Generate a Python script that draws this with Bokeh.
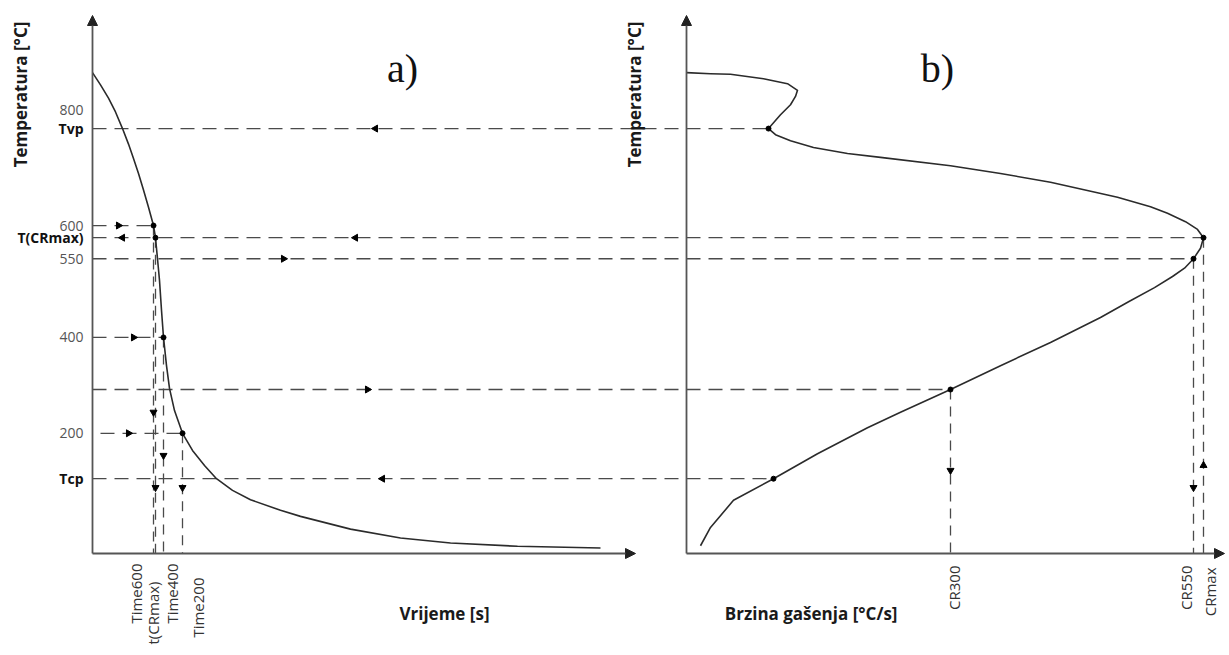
import math
from bokeh.plotting import figure
from bokeh.models import Range1d, Arrow, NormalHead
from bokeh.core.properties import value
from bokeh.embed import file_html
from bokeh.resources import INLINE

# ---------------- data ----------------
# a) cooling curve: time [s] vs temperature [°C]
cool_t = [0, 0.8, 1.6, 2.3, 3.0, 3.6, 4.1, 4.6, 5.1, 5.6, 6.1, 6.3, 6.5, 6.7, 6.9, 7.1,
          7.4, 7.7, 8.2, 9.0, 10.0, 11.2, 12.4, 14.0, 15.8, 18.8, 20.8, 25.8, 30.8, 35.8, 42.5, 50.8]
cool_T = [868, 846, 822, 797, 767, 739, 713, 686, 656, 625, 592, 570, 532, 493, 439, 390,
          339, 298, 258, 217, 186, 159, 135, 114, 97, 78, 67, 44, 28, 19, 13, 10]

# b) cooling rate [°C/s] vs temperature [°C]
rate_CR = [0, 4.8, 8.8, 15.4, 20.2, 22.2, 21.8, 20.8, 18.8, 16.4, 17.8, 20.8, 25.4, 32.2, 38.8,
           52.8, 62.8, 72.8, 86.2, 92.8, 96.2, 99.8, 102.2, 103.4, 102.8, 101.4, 99.6, 97.2,
           93.6, 88.5, 82.8, 72.8, 62.8, 52.8, 42.8, 36.2, 26.2, 17.4, 9.4, 4.8, 2.8]
rate_T = [868, 866, 865, 857, 848, 836, 825, 810, 792, 767, 756, 745, 733, 722, 715,
          700, 686, 670, 643, 626, 614, 599, 585, 570, 551, 532, 515, 500,
          480, 455, 426, 381, 339, 296, 255, 227, 180, 135, 96, 47, 14]

# temperature tick labels
level_names = ["800", "Tvp", "600", "T(CRmax)", "550", "400", "200", "Tcp"]
level_T = [800, 767, 592, 570, 532, 390, 217, 135]
level_bold = [False, True, False, True, False, False, False, True]
T300 = 296

# characteristic times
time_names = ["Time600", "t(CRmax)", "Time400", "Time200"]
time_vals = [6.1, 6.3, 7.1, 9.0]
time_T = [592, 570, 390, 217]

# characteristic cooling rates
cr_names = ["CR300", "CR550", "CRmax"]
cr_vals = [52.8, 101.4, 103.4]
cr_T = [296, 532, 570]

CR_Tvp = 16.4
CR_Tcp = 17.4

# direction arrow heads on the guide lines (time units / °C)
t_arrow_t = [2.6, 3.0, 4.1, 3.6, 28.3, 26.3, 19.1, 27.5, 29.0, 6.1, 6.3, 7.1, 9.0]
t_arrow_T = [592, 570, 390, 217, 767, 570, 532, 296, 135, 255, 119, 177, 119]
t_arrow_dir = ["right", "left", "right", "right", "left", "left", "right", "right", "left",
               "down", "down", "down", "down"]
cr_arrow_cr = [52.8, 101.4, 103.4]
cr_arrow_T = [150, 119, 159]
cr_arrow_dir = ["down", "down", "up"]

# ---------------- layout ----------------
FIG_W, FIG_H = 1225, 651
AX_L = 92      # px of left panel axis
AX_R = 686     # px of right panel axis
AX_B = 553     # px of x axes from top
PX_S = 10.0    # px per second
PX_CR = 5.0    # px per °C/s
PX_C = 0.554   # px per °C

t_range = Range1d(-AX_L / PX_S, (FIG_W - AX_L) / PX_S)
cr_start, cr_end = -AX_R / PX_CR, (FIG_W - AX_R) / PX_CR
y_range = Range1d(-(FIG_H - AX_B) / PX_C, AX_B / PX_C)


def t_to_cr(t):
    return (AX_L + t * PX_S - AX_R) / PX_CR


def px_to_t(dx):
    return dx / PX_S


def px_to_c(dy):
    return dy / PX_C


ANG = {"up": 0.0, "left": math.pi / 2, "down": math.pi, "right": -math.pi / 2}

p = figure(width=FIG_W, height=FIG_H, x_range=t_range, y_range=y_range,
           output_backend="svg", toolbar_location=None,
           x_axis_location=None, y_axis_location=None,
           min_border=0, outline_line_color=None)
p.extra_x_ranges = {"cr": Range1d(cr_start, cr_end)}
p.background_fill_color = "white"
p.xgrid.visible = False
p.ygrid.visible = False

AXC = "#555555"
CURVE = "#2b2b2b"
DASH = "#4a4a4a"
DASHP = "14 8"
FONT = value("Open Sans")

# ---- axes with arrows ----
top_T = px_to_c(AX_B - 15)
for rng in ("default", "cr"):
    p.add_layout(Arrow(end=NormalHead(size=10, fill_color="#222222", line_color="#222222"),
                       x_start=0, y_start=0, x_end=0, y_end=top_T,
                       line_color=AXC, line_width=1.8, x_range_name=rng))
p.add_layout(Arrow(end=NormalHead(size=10, fill_color="#222222", line_color="#222222"),
                   x_start=0, y_start=0, x_end=54.3, y_end=0,
                   line_color=AXC, line_width=1.8))
p.add_layout(Arrow(end=NormalHead(size=10, fill_color="#222222", line_color="#222222"),
                   x_start=0, y_start=0, x_end=cr_end - 0.2, y_end=0,
                   line_color=AXC, line_width=1.8, x_range_name="cr"))

# ---- dashed guide lines ----
hx = [[0, time_vals[0]], [0, time_vals[2]], [0.8, time_vals[3]]]
hy = [[time_T[0]] * 2, [time_T[2]] * 2, [time_T[3]] * 2]
p.multi_line(hx, hy, line_color=DASH, line_width=1.3, line_dash=DASHP)

x0cr = t_to_cr(0)
cross_end = [CR_Tvp, cr_vals[2], cr_vals[1], cr_vals[0], CR_Tcp]
cross_T = [level_T[1], level_T[3], level_T[4], T300, level_T[7]]
p.multi_line([[x0cr, e] for e in cross_end], [[t, t] for t in cross_T],
             line_color=DASH, line_width=1.3, line_dash=DASHP, x_range_name="cr")

p.multi_line([[v, v] for v in time_vals], [[T, 0] for T in time_T],
             line_color=DASH, line_width=1.3, line_dash="10 7")
p.multi_line([[v, v] for v in cr_vals], [[T, 0] for T in cr_T],
             line_color=DASH, line_width=1.3, line_dash="10 7", x_range_name="cr")

# ---- curves ----
p.line(cool_t, cool_T, line_color=CURVE, line_width=1.6, line_join="round")
p.line(rate_CR, rate_T, line_color=CURVE, line_width=1.6, line_join="round",
       x_range_name="cr")

# ---- points ----
p.scatter(time_vals, time_T, size=5, color="black")
p.scatter(cr_vals + [CR_Tvp, CR_Tcp], cr_T + [level_T[1], level_T[7]],
          size=5, color="black", x_range_name="cr")

# ---- arrow heads ----
p.scatter(t_arrow_t, t_arrow_T, marker="triangle", size=7, color="black",
          angle=[ANG[d] for d in t_arrow_dir])
p.scatter(cr_arrow_cr, cr_arrow_T, marker="triangle", size=7, color="black",
          angle=[ANG[d] for d in cr_arrow_dir], x_range_name="cr")

# ---- temperature tick labels ----
lx = px_to_t(-9)
reg = [(n, T) for n, T, b in zip(level_names, level_T, level_bold) if not b]
bld = [(n, T) for n, T, b in zip(level_names, level_T, level_bold) if b]
p.text([lx] * len(reg), [T for _, T in reg], text=[n for n, _ in reg],
       text_align="right", text_baseline="middle", text_font=FONT,
       text_font_size="14px", text_color="#555555")
p.text([lx] * len(bld), [T for _, T in bld], text=[n for n, _ in bld],
       text_align="right", text_baseline="middle", text_font=FONT,
       text_font_size="14px", text_font_style="bold", text_color="#111111")

# ---- bottom tick labels (vertical) ----
p.text(time_vals, [0] * 4, text=time_names, angle=math.pi / 2,
       x_offset=[-18, -3, 8, 15], y_offset=[10, 28, 10, 24],
       text_align="right", text_baseline="middle", text_font=FONT,
       text_font_size="15px", text_color="#333333")
p.text(cr_vals, [0] * 3, text=cr_names, angle=math.pi / 2,
       x_offset=[3, -8, 6], y_offset=[12, 12, 14],
       text_align="right", text_baseline="middle", text_font=FONT,
       text_font_size="15px", text_color="#333333", x_range_name="cr")

# ---- axis titles ----
yt = px_to_c(AX_B - 94)
p.text([px_to_t(-72)], [yt], text=["Temperatura [°C]"], angle=math.pi / 2,
       text_align="center", text_baseline="middle", text_font=FONT,
       text_font_size="17px", text_font_style="bold", text_color="#1a1a1a")
p.text([-52 / PX_CR], [yt], text=["Temperatura [°C]"], angle=math.pi / 2,
       text_align="center", text_baseline="middle", text_font=FONT,
       text_font_size="17px", text_font_style="bold", text_color="#1a1a1a",
       x_range_name="cr")
yb = -px_to_c(60)
p.text([px_to_t(352)], [yb], text=["Vrijeme [s]"],
       text_align="center", text_baseline="middle", text_font=FONT,
       text_font_size="17px", text_font_style="bold", text_color="#1a1a1a")
p.text([211 / PX_CR], [yb], text=["Brzina gašenja [°C/s]"],
       text_align="right", text_baseline="middle", text_font=FONT,
       text_font_size="17px", text_font_style="bold", text_color="#1a1a1a",
       x_range_name="cr")

# ---- panel letters ----
yl = px_to_c(AX_B - 68)
p.text([px_to_t(310)], [yl], text=["a)"], text_align="center", text_baseline="middle",
       text_font=value("Liberation Serif"), text_font_size="40px", text_color="#111111")
p.text([251 / PX_CR], [yl], text=["b)"], text_align="center", text_baseline="middle",
       text_font=value("Liberation Serif"), text_font_size="40px", text_color="#111111",
       x_range_name="cr")

open("out.html", "w").write(file_html(p, INLINE))
